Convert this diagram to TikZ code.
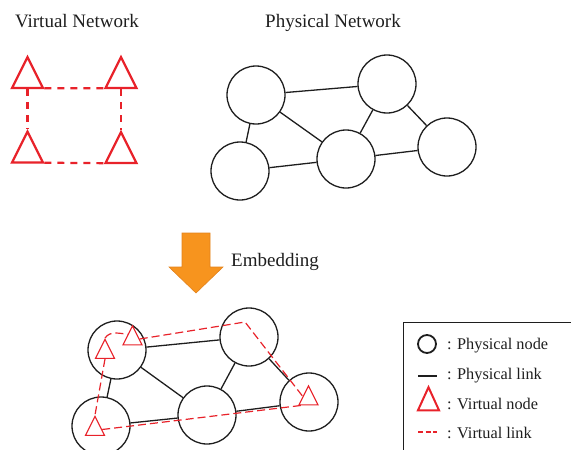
\documentclass[tikz,border=0pt]{standalone}
\usepackage{fontspec}
\setmainfont{Liberation Serif}
\usetikzlibrary{shapes.geometric}
\definecolor{vred}{RGB}{232,34,42}
\definecolor{arrowfill}{RGB}{247,148,30}
\definecolor{arrowedge}{RGB}{226,130,28}
\definecolor{ink}{RGB}{30,30,30}

\begin{document}
\begin{tikzpicture}[x=1pt,y=-1pt,
  title/.style={anchor=base,inner sep=0,text=ink,font=\fontsize{19}{22}\selectfont},
  legtext/.style={anchor=base west,inner sep=0,text=ink,font=\fontsize{16.3}{19}\selectfont},
  pnode/.style={circle,draw=ink,line width=1.3pt,minimum size=58pt,inner sep=0},
  plink/.style={draw=ink,line width=1.3pt},
  vtri/.style={isosceles triangle,isosceles triangle apex angle=53,
    isosceles triangle stretches,shape border rotate=90,draw=vred,inner sep=0},
  vbig/.style={vtri,line width=2.2pt,minimum width=31pt,minimum height=31pt},
  vsmall/.style={vtri,line width=1.2pt,minimum width=19pt,minimum height=19pt},
  vdashbig/.style={draw=vred,line width=2.2pt,dash pattern=on 7pt off 6pt},
  vdashsmall/.style={draw=vred,line width=1.2pt,dash pattern=on 8pt off 4pt},
]
\useasboundingbox (0,0) rectangle (571,450);
\clip (0,0) rectangle (571,450);

% headings
\node[title] (vtitle) at (77,27) {Virtual Network};
\node[title] (ptitle) at (333,27) {Physical Network};
\node[title] (etitle) at (275,266) {Embedding};

% virtual network: four nodes in a square
\node[vbig] (va) at (27.5,78.5) {};
\node[vbig] (vb) at (121,78.5) {};
\node[vbig] (vc) at (27.5,153) {};
\node[vbig] (vd) at (121,153.5) {};
\draw[vdashbig] (va.-30) -- (vb.210);
\draw[vdashbig] (vc.-30) -- (vd.210);
\draw[vdashbig] (va.south) -- (vc.north);
\draw[vdashbig] (vb.south) -- (vd.north);

% physical network
\node[pnode] (p1) at (256,95) {};
\node[pnode] (p2) at (387,84) {};
\node[pnode] (p3) at (240,171) {};
\node[pnode] (p4) at (346,159) {};
\node[pnode] (p5) at (447,147) {};
\draw[plink] (p1) -- (p2) (p1) -- (p3) (p1) -- (p4) (p2) -- (p4)
             (p2) -- (p5) (p3) -- (p4) (p4) -- (p5);

% embedding arrow
\filldraw[fill=arrowfill,draw=arrowedge,line width=0.6pt]
  (182,233) -- (210,233) -- (210,267) -- (223,267) -- (196,293)
  -- (169,267) -- (182,267) -- cycle;

% embedded result: physical layer
\node[pnode] (q1) at (117,350) {};
\node[pnode] (q2) at (249,337) {};
\node[pnode] (q3) at (101,426) {};
\node[pnode] (q4) at (207,415) {};
\node[pnode] (q5) at (309,402) {};
\draw[plink] (q1) -- (q2) (q1) -- (q3) (q1) -- (q4) (q2) -- (q4)
             (q2) -- (q5) (q3) -- (q4) (q4) -- (q5);

% embedded result: virtual layer
\node[vsmall] (t1) at (105,352.5) {};
\node[vsmall] (t2) at (132.5,339) {};
\node[vsmall] (t3) at (95,429.5) {};
\node[vsmall] (t4) at (308.5,399) {};
\coordinate (bend) at (245,322);
\draw[vdashsmall] (t1.north) to[out=55,in=175] (t2.135);
\draw[vdashsmall] (t2.east) -- (bend) -- (t4.155);
\draw[vdashsmall] (t1.south) -- (t3.north);
\draw[vdashsmall] (t3.east) -- (t4.220);

% legend
\draw[draw=ink,line width=1pt] (403,322) rectangle (600,480);
\node[pnode,minimum size=18pt,line width=1.8pt] (lcirc) at (427,344) {};
\coordinate (lla) at (418,376);
\coordinate (llb) at (437,376);
\draw[draw=ink,line width=1.7pt] (lla) -- (llb);
\node[vtri,line width=2pt,minimum width=21pt,minimum height=23pt] (ltri) at (428.5,403.5) {};
\coordinate (lva) at (418,432);
\coordinate (lvb) at (437,432);
\draw[draw=vred,line width=1.5pt,dash pattern=on 5pt off 2.5pt] (lva) -- (lvb);
\node[legtext] (l1) at (447,349) {: Physical node};
\node[legtext] (l2) at (447,379) {: Physical link};
\node[legtext] (l3) at (447,409) {: Virtual node};
\node[legtext] (l4) at (447,438) {: Virtual link};
\end{tikzpicture}
\end{document}
